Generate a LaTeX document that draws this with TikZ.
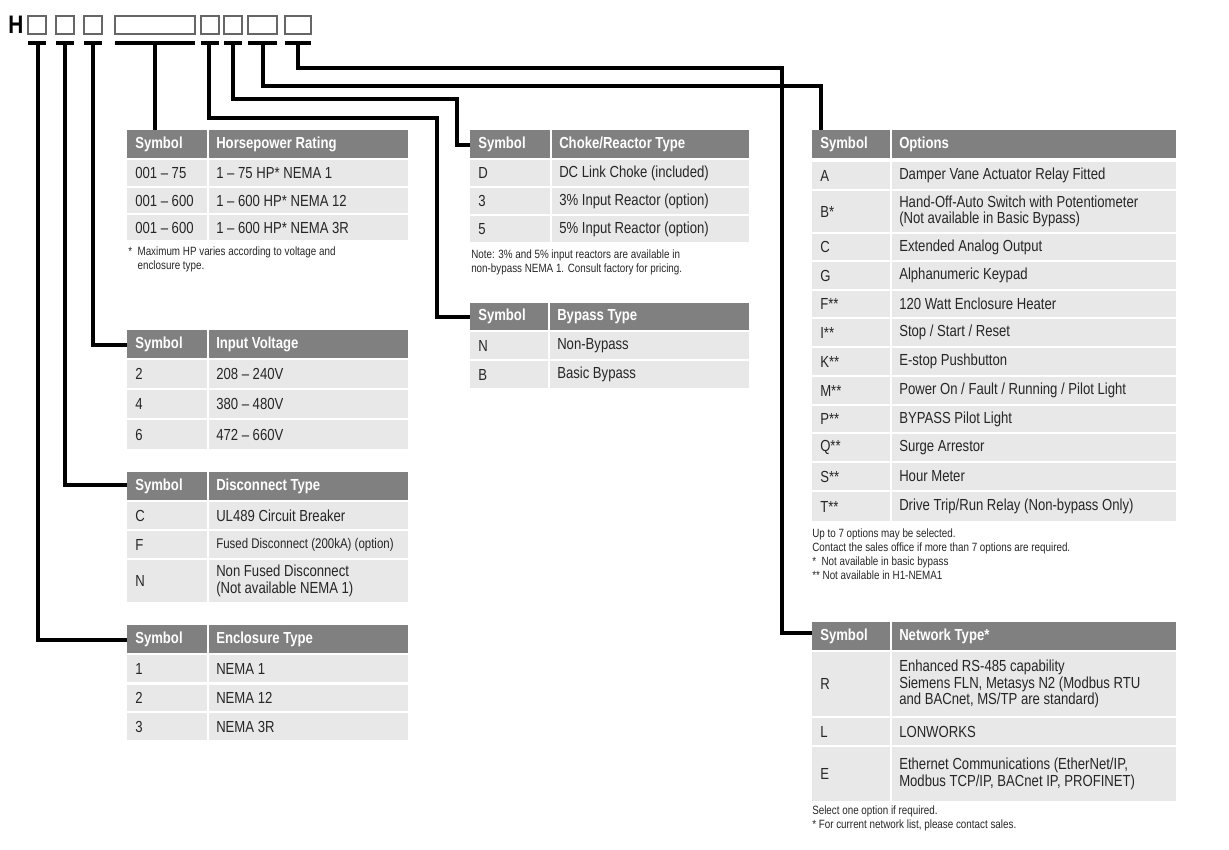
\documentclass[tikz,border=0pt]{standalone}
\usepackage{fontspec}
\setmainfont{Liberation Sans}[FakeStretch=0.82]
\definecolor{hd}{HTML}{808080}
\definecolor{rw}{HTML}{E8E8E8}
\newcommand\tbhead[7]{% x1 xs x2 y1 y2 sym text
  \fill[hd] (#1,#4) rectangle (#2-1,#5);
  \fill[hd] (#2+1,#4) rectangle (#3,#5);
  \node[ht,anchor=west] at (#1+8,{(#4+#5)/2}) {#6};
  \node[ht,anchor=west] at (#2+8,{(#4+#5)/2}) {#7};}
\newcommand\tbrow[7]{%
  \fill[rw] (#1,#4) rectangle (#2-1,#5);
  \fill[rw] (#2+1,#4) rectangle (#3,#5);
  \node[rt,anchor=west] at (#1+8,{(#4+#5)/2}) {#6};
  \node[rt,anchor=west] at (#2+8,{(#4+#5)/2}) {#7};}
\begin{document}
\begin{tikzpicture}[x=0.75pt,y=-0.75pt,
  ht/.style={text=white,font=\bfseries\fontsize{12}{13}\selectfont,inner sep=0},
  rt/.style={text=black!85,font=\fontsize{12}{12.5}\selectfont,inner sep=0,align=left},
  nt/.style={text=black!85,font=\fontsize{9}{10.5}\selectfont,inner sep=0,align=left,anchor=north west},
  cb/.style={draw=black!60,line width=0.8pt},
  ln/.style={line width=2.5pt,line join=miter}]
\useasboundingbox (0,0) rectangle (1229,850);
% code header
\node[inner sep=0,font=\bfseries\fontsize{19}{19}\selectfont,anchor=west] (H) at (8,25) {H};
\foreach \a/\b [count=\i] in {28/46,56/74,84/102,115/195,201/219,224/242,248/277,285/311}{
  \draw[cb] (\a,16) rectangle (\b,34);
  \draw[line width=2.5pt] (\a,43) -- (\b,43);}
% connectors
\draw[ln] (38,43) -- (38,640) -- (127,640);
\draw[ln] (65,43) -- (65,485) -- (127,485);
\draw[ln] (93,43) -- (93,345) -- (127,345);
\draw[ln] (155,43) -- (155,130);
\draw[ln] (209,43) -- (209,118) -- (437,118) -- (437,317) -- (470,317);
\draw[ln] (233,43) -- (233,99) -- (457,99) -- (457,145) -- (470,145);
\draw[ln] (263,43) -- (263,86) -- (821,86) -- (821,130);
\draw[ln] (298,43) -- (298,68) -- (782,68) -- (782,633) -- (812,633);
% HP
\tbhead{127}{208}{408}{130}{158}{Symbol}{Horsepower Rating}
\tbrow{127}{208}{408}{160}{186}{001 -- 75}{1 -- 75 HP* NEMA 1}
\tbrow{127}{208}{408}{188}{213}{001 -- 600}{1 -- 600 HP* NEMA 12}
\tbrow{127}{208}{408}{215}{240}{001 -- 600}{1 -- 600 HP* NEMA 3R}
\node[nt] at (128,247) {* \ Maximum HP varies according to voltage and\\\hspace*{7pt}enclosure type.};
% Voltage
\tbhead{127}{208}{408}{330}{358}{Symbol}{Input Voltage}
\tbrow{127}{208}{408}{360}{388}{2}{208 -- 240V}
\tbrow{127}{208}{408}{390}{418}{4}{380 -- 480V}
\tbrow{127}{208}{408}{420}{449}{6}{472 -- 660V}
% Disconnect
\tbhead{127}{208}{408}{472}{500}{Symbol}{Disconnect Type}
\tbrow{127}{208}{408}{502}{529}{C}{UL489 Circuit Breaker}
\tbrow{127}{208}{408}{531}{558}{F}{\fontsize{10.5}{11}\selectfont Fused Disconnect (200kA) (option)}
\tbrow{127}{208}{408}{560}{602}{N}{Non Fused Disconnect\\(Not available NEMA 1)}
% Enclosure
\tbhead{127}{208}{408}{625}{653}{Symbol}{Enclosure Type}
\tbrow{127}{208}{408}{655}{682}{1}{NEMA 1}
\tbrow{127}{208}{408}{685}{711}{2}{NEMA 12}
\tbrow{127}{208}{408}{713}{740}{3}{NEMA 3R}
% Choke
\tbhead{470}{551}{749}{130}{158}{Symbol}{Choke/Reactor Type}
\tbrow{470}{551}{749}{160}{186}{D}{DC Link Choke (included)}
\tbrow{470}{551}{749}{188}{214}{3}{3\% Input Reactor (option)}
\tbrow{470}{551}{749}{216}{242}{5}{5\% Input Reactor (option)}
\node[nt] at (471,250) {Note: 3\% and 5\% input reactors are available in\\non-bypass NEMA 1. Consult factory for pricing.};
% Bypass
\tbhead{470}{549}{749}{303}{330}{Symbol}{Bypass Type}
\tbrow{470}{549}{749}{332}{359}{N}{Non-Bypass}
\tbrow{470}{549}{749}{361}{388}{B}{Basic Bypass}
% Options
\tbhead{812}{891}{1176}{130}{158}{Symbol}{Options}
\tbrow{812}{891}{1176}{162}{189}{A}{Damper Vane Actuator Relay Fitted}
\tbrow{812}{891}{1176}{191}{232}{B*}{Hand-Off-Auto Switch with Potentiometer\\(Not available in Basic Bypass)}
\tbrow{812}{891}{1176}{234}{260}{C}{Extended Analog Output}
\tbrow{812}{891}{1176}{262}{289}{G}{Alphanumeric Keypad}
\tbrow{812}{891}{1176}{291}{317}{F**}{120 Watt Enclosure Heater}
\tbrow{812}{891}{1176}{319}{346}{I**}{Stop / Start / Reset}
\tbrow{812}{891}{1176}{348}{375}{K**}{E-stop Pushbutton}
\tbrow{812}{891}{1176}{377}{404}{M**}{Power On / Fault / Running / Pilot Light}
\tbrow{812}{891}{1176}{406}{432}{P**}{BYPASS Pilot Light}
\tbrow{812}{891}{1176}{434}{461}{Q**}{Surge Arrestor}
\tbrow{812}{891}{1176}{463}{490}{S**}{Hour Meter}
\tbrow{812}{891}{1176}{492}{521}{T**}{Drive Trip/Run Relay (Non-bypass Only)}
\node[nt] at (812,529) {Up to 7 options may be selected.\\Contact the sales office if more than 7 options are required.\\* \ Not available in basic bypass\\** Not available in H1-NEMA1};
% Network
\tbhead{812}{891}{1176}{622}{650}{Symbol}{Network Type*}
\tbrow{812}{891}{1176}{652}{716}{R}{Enhanced RS-485 capability\\Siemens FLN, Metasys N2 (Modbus RTU\\and BACnet, MS/TP are standard)}
\tbrow{812}{891}{1176}{718}{745}{L}{LONWORKS}
\tbrow{812}{891}{1176}{747}{801}{E}{Ethernet Communications (EtherNet/IP,\\Modbus TCP/IP, BACnet IP, PROFINET)}
\node[nt] at (812,806) {Select one option if required.\\* For current network list, please contact sales.};
\end{tikzpicture}
\end{document}
